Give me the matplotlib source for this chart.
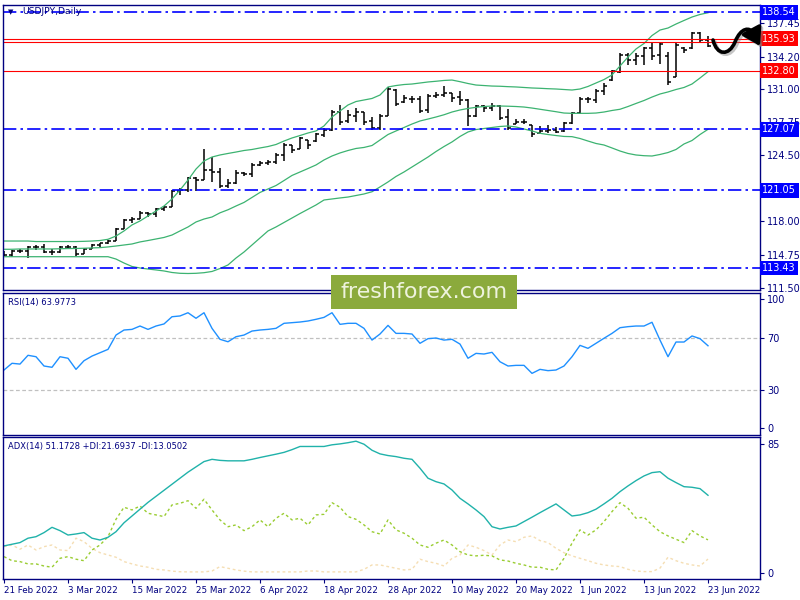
import matplotlib
matplotlib.use('Agg')

import matplotlib.pyplot as plt
import numpy as np
from matplotlib.path import Path
from matplotlib.patches import FancyArrowPatch, Rectangle

# USDJPY daily bars, 21 Feb 2022 - 23 Jun 2022
opens = [114.91, 114.71, 115.10, 115.10, 115.50, 115.50, 115.00, 115.00, 115.50, 115.50,
         114.81, 115.30, 115.69, 115.89, 116.08, 117.26, 118.15, 118.25, 118.83, 118.73,
         119.23, 119.42, 120.99, 121.09, 122.27, 122.07, 123.06, 122.86, 121.48, 121.78,
         122.76, 122.66, 123.55, 123.74, 123.84, 124.53, 125.51, 125.12, 126.00, 125.90,
         126.49, 126.98, 128.75, 127.87, 128.36, 128.75, 127.87, 127.18, 128.36, 130.91,
         129.73, 130.03, 130.03, 128.95, 130.32, 130.42, 130.62, 130.22, 129.93, 128.36,
         129.34, 129.14, 129.34, 128.26, 127.57, 127.77, 127.47, 126.69, 126.89, 126.98,
         126.89, 127.67, 128.65, 130.03, 129.93, 130.81, 131.89, 132.68, 134.35, 133.86,
         134.25, 135.04, 134.35, 134.25, 132.19, 135.04, 135.04, 136.51, 135.82]
highs = [115.10, 115.20, 115.27, 115.59, 115.69, 115.76, 115.27, 115.62, 115.69, 115.59,
         115.37, 115.76, 115.92, 116.18, 117.33, 118.22, 118.41, 119.06, 118.96, 119.35,
         119.55, 121.09, 121.26, 122.40, 122.40, 125.09, 124.36, 123.22, 122.14, 123.06,
         122.89, 123.71, 123.97, 124.04, 124.70, 125.74, 125.51, 126.33, 126.00, 126.72,
         127.15, 128.95, 129.44, 128.95, 129.12, 128.78, 128.29, 128.56, 131.24, 130.98,
         130.42, 130.32, 130.32, 130.52, 130.75, 131.31, 130.65, 130.84, 130.00, 129.44,
         129.44, 129.66, 129.44, 129.02, 128.03, 128.03, 127.47, 127.38, 127.47, 127.31,
         127.80, 128.78, 130.20, 130.20, 130.98, 131.63, 132.88, 134.52, 134.52, 134.52,
         135.16, 135.50, 135.56, 134.67, 135.50, 135.10, 136.64, 136.64, 136.21]
lows = [114.64, 114.54, 114.94, 114.38, 115.20, 114.88, 114.71, 114.88, 115.27, 114.61,
        114.81, 115.27, 115.52, 115.79, 116.08, 117.23, 117.82, 118.22, 118.41, 118.41,
        119.06, 119.40, 120.60, 120.93, 121.02, 122.07, 121.91, 121.26, 121.26, 121.68,
        122.47, 122.40, 123.45, 123.55, 123.65, 123.97, 124.70, 125.09, 125.09, 125.83,
        126.27, 126.92, 127.47, 127.70, 127.80, 127.47, 126.98, 126.98, 128.36, 129.34,
        129.61, 129.67, 128.62, 128.68, 130.10, 130.20, 129.76, 129.44, 127.38, 128.23,
        128.78, 128.88, 127.97, 126.98, 127.57, 127.57, 126.33, 126.66, 126.72, 126.66,
        126.82, 127.57, 128.56, 129.66, 129.66, 130.42, 131.83, 132.55, 133.37, 133.37,
        133.37, 133.86, 133.46, 131.40, 132.16, 134.52, 134.91, 135.65, 135.10]
closes = [114.71, 115.10, 115.10, 115.50, 115.50, 115.00, 115.00, 115.50, 115.50, 114.81,
          115.30, 115.69, 115.89, 116.08, 117.26, 118.15, 118.25, 118.83, 118.73, 119.23,
          119.42, 120.99, 121.09, 122.27, 122.07, 123.06, 122.86, 121.48, 121.78, 122.76,
          122.66, 123.55, 123.74, 123.84, 124.53, 125.51, 125.02, 126.20, 125.51, 126.59,
          126.98, 128.75, 127.77, 128.46, 128.75, 127.77, 127.18, 128.36, 131.01, 129.54,
          130.13, 130.03, 128.85, 130.32, 130.42, 130.62, 130.13, 129.93, 128.36, 129.34,
          129.14, 129.34, 128.16, 127.18, 127.77, 127.77, 126.59, 126.89, 126.98, 126.79,
          127.67, 128.65, 130.03, 130.03, 130.81, 131.30, 132.78, 134.35, 133.86, 134.25,
          135.04, 134.25, 135.43, 131.70, 135.33, 134.84, 136.51, 135.82, 135.23]

# Bollinger bands (20, 2)
bb_upper = [116.08, 116.08, 116.08, 116.08, 116.03, 116.03, 116.03, 116.03, 116.03, 116.03,
            116.05, 116.08, 116.13, 116.25, 116.57, 117.07, 117.66, 118.05, 118.54, 119.03,
            119.52, 120.21, 121.09, 122.07, 123.15, 123.94, 124.33, 124.53, 124.68, 124.82,
            124.97, 125.07, 125.22, 125.36, 125.56, 125.90, 126.20, 126.44, 126.69, 126.89,
            127.38, 128.26, 128.85, 129.44, 129.78, 129.93, 130.08, 130.42, 131.21, 131.35,
            131.45, 131.50, 131.60, 131.70, 131.77, 131.85, 131.89, 131.73, 131.55, 131.40,
            131.35, 131.30, 131.28, 131.24, 131.21, 131.16, 131.11, 131.08, 131.04, 131.01,
            130.96, 130.91, 131.01, 131.26, 131.60, 131.94, 132.39, 133.27, 134.15, 134.94,
            135.48, 136.26, 136.80, 137.00, 137.39, 137.74, 138.08, 138.33, 138.50]
bb_middle = [115.27, 115.27, 115.30, 115.30, 115.30, 115.30, 115.30, 115.32, 115.34, 115.35,
             115.37, 115.40, 115.43, 115.50, 115.59, 115.69, 115.79, 115.99, 116.13, 116.28,
             116.43, 116.67, 117.07, 117.46, 117.95, 118.24, 118.44, 118.85, 119.15, 119.52,
             119.87, 120.36, 120.85, 121.19, 121.53, 122.02, 122.52, 122.86, 123.20, 123.55,
             124.04, 124.43, 124.73, 124.97, 125.17, 125.27, 125.46, 126.00, 126.54, 126.89,
             127.23, 127.57, 127.87, 128.06, 128.26, 128.48, 128.75, 128.95, 129.10, 129.21,
             129.29, 129.34, 129.34, 129.32, 129.29, 129.24, 129.14, 129.02, 128.90, 128.78,
             128.65, 128.62, 128.62, 128.62, 128.65, 128.75, 128.90, 129.02, 129.29, 129.59,
             129.88, 130.22, 130.52, 130.72, 130.96, 131.16, 131.50, 132.09, 132.71]
bb_lower = [114.54, 114.54, 114.54, 114.54, 114.54, 114.54, 114.54, 114.54, 114.54, 114.54,
            114.54, 114.54, 114.54, 114.54, 114.31, 113.92, 113.58, 113.43, 113.33, 113.24,
            113.14, 112.99, 112.91, 112.89, 112.91, 112.97, 113.09, 113.38, 113.73, 114.41,
            115.00, 115.69, 116.38, 117.07, 117.46, 117.90, 118.34, 118.78, 119.20, 119.62,
            120.11, 120.21, 120.31, 120.40, 120.55, 120.70, 120.92, 121.39, 121.88, 122.42,
            122.86, 123.35, 123.84, 124.33, 124.87, 125.36, 125.81, 126.35, 126.79, 127.03,
            127.13, 127.23, 127.33, 127.38, 127.28, 127.08, 126.89, 126.66, 126.54, 126.44,
            126.35, 126.33, 126.15, 125.90, 125.66, 125.51, 125.22, 124.92, 124.68, 124.53,
            124.46, 124.43, 124.58, 124.77, 125.07, 125.61, 125.95, 126.54, 127.05]

rsi = [45.2, 50.4, 49.8, 56.6, 55.5, 48.3, 47.3, 55.5, 54.3, 45.7,
       52.4, 56.0, 58.6, 61.2, 72.3, 76.2, 76.7, 79.3, 76.7, 79.3,
       80.9, 86.5, 87.1, 89.6, 85.3, 89.6, 77.5, 69.0, 67.1, 71.0,
       72.3, 75.4, 76.2, 76.7, 77.5, 81.4, 81.9, 82.4, 83.2, 84.5,
       86.0, 89.6, 80.6, 81.4, 81.4, 77.5, 68.4, 73.1, 79.8, 73.6,
       73.6, 73.1, 65.9, 69.5, 70.0, 68.4, 69.0, 65.3, 54.3, 58.1,
       57.6, 58.9, 51.6, 48.3, 48.8, 48.8, 42.6, 45.7, 44.7, 45.2,
       48.3, 55.5, 64.3, 62.0, 65.9, 69.8, 73.6, 78.0, 78.8, 79.3,
       79.3, 82.2, 68.4, 55.5, 66.9, 66.9, 71.6, 69.5, 64.0]

adx = [17.7, 18.8, 19.9, 22.8, 23.8, 26.5, 30.0, 27.8, 24.9, 25.6,
       26.5, 22.8, 21.6, 23.4, 27.1, 33.0, 37.5, 42.0, 46.5, 50.5,
       54.5, 58.5, 62.5, 66.5, 70.0, 73.5, 75.0, 74.3, 74.0, 74.0,
       74.0, 75.0, 76.2, 77.3, 78.4, 79.6, 81.4, 83.5, 83.5, 83.5,
       83.5, 84.6, 85.2, 86.0, 87.0, 85.0, 81.0, 78.6, 77.5, 76.8,
       75.7, 75.0, 69.1, 62.5, 60.2, 58.7, 54.7, 49.2, 45.5, 41.5,
       37.1, 30.4, 28.9, 30.0, 30.9, 33.8, 36.7, 39.7, 42.6, 45.5,
       41.5, 37.5, 38.2, 39.7, 42.0, 45.5, 49.2, 53.6, 57.4, 60.9,
       64.0, 66.2, 66.8, 62.5, 59.6, 56.9, 56.5, 55.6, 51.2]
plus_di = [10.6, 7.9, 7.3, 5.8, 5.8, 4.4, 3.6, 9.5, 10.6, 8.9,
           7.9, 15.0, 18.3, 23.8, 35.3, 43.3, 41.5, 44.1, 39.3, 38.2,
           37.1, 44.8, 45.9, 47.6, 42.6, 48.6, 41.5, 34.9, 30.4, 31.6,
           27.8, 30.4, 34.9, 30.4, 36.0, 39.3, 34.9, 36.0, 31.6, 38.2,
           38.6, 46.3, 43.3, 37.1, 35.3, 31.6, 27.1, 25.6, 34.9, 28.3,
           26.1, 22.8, 18.3, 16.8, 19.5, 21.6, 18.3, 13.9, 11.7, 11.1,
           11.5, 11.1, 8.4, 7.7, 6.2, 5.1, 3.6, 3.6, 2.2, 1.8,
           9.5, 19.5, 28.3, 24.9, 28.3, 33.8, 40.4, 46.3, 42.6, 36.0,
           36.7, 31.6, 27.1, 24.3, 22.1, 19.9, 27.8, 24.3, 21.7]
minus_di = [17.2, 18.3, 15.5, 18.3, 15.0, 17.2, 18.3, 15.0, 14.6, 22.8,
            20.5, 16.1, 13.2, 11.7, 10.2, 7.3, 5.8, 4.4, 3.6, 2.2,
            1.8, 1.0, 0.6, 0.5, 0.5, 0.5, 1.1, 4.0, 2.9, 1.8,
            1.0, 0.5, 0.5, 0.5, 0.5, 0.5, 0.5, 0.5, 1.1, 1.1,
            0.5, 0.5, 0.5, 0.5, 0.5, 2.2, 5.1, 5.1, 4.0, 2.9,
            1.8, 2.2, 8.9, 7.3, 6.2, 4.4, 9.5, 11.7, 18.3, 16.8,
            14.6, 11.7, 18.3, 21.6, 20.5, 23.4, 24.3, 21.2, 19.9, 16.1,
            13.2, 11.1, 9.5, 7.9, 6.2, 5.1, 4.4, 4.0, 2.2, 1.1,
            0.7, 0.7, 3.0, 10.2, 7.9, 6.2, 5.1, 4.4, 9.0]

blue_levels = [138.54, 127.07, 121.05, 113.43]
red_levels = [135.93, 132.80]
red_extra_line = 135.66

price_ticks = [111.50, 114.75, 118.00, 124.50, 127.75, 131.00, 134.20, 137.45]
price_labels = ['111.50', '114.75', '118.00', '124.50', '127.75', '131.00', '134.20', '137.45']

date_pos = [0, 8, 16, 24, 32, 40, 48, 56, 64, 72, 80, 88]
date_labels = ['21 Feb 2022', '3 Mar 2022', '15 Mar 2022', '25 Mar 2022', '6 Apr 2022',
               '18 Apr 2022', '28 Apr 2022', '10 May 2022', '20 May 2022', '1 Jun 2022',
               '13 Jun 2022', '23 Jun 2022']

NAVY = '#000080'


def panel(fig, top, bottom):
    ax = fig.add_axes([3 / 800, 1 - bottom / 600, 757 / 800, (bottom - top) / 600])
    ax.set_xlim(-0.125, 94.5)
    for s in ax.spines.values():
        s.set_color(NAVY)
        s.set_linewidth(1)
    ax.yaxis.tick_right()
    ax.tick_params(axis='y', direction='out', length=3, pad=2, labelsize=7, colors=NAVY)
    ax.set_xticks([])
    return ax


def draw_chart():
    fig = plt.figure(figsize=(8, 6), dpi=100, facecolor='white')
    x = np.arange(len(closes))

    # price panel
    ax = panel(fig, 5, 290)
    ax.set_ylim(111.27, 139.26)
    ax.vlines(x, lows, highs, color='black', lw=1.1)
    ax.hlines(opens, x - 0.4, x, color='black', lw=1.1)
    ax.hlines(closes, x, x + 0.4, color='black', lw=1.1)
    for band in (bb_upper, bb_middle, bb_lower):
        ax.plot(x, band, color='#3CB371', lw=0.9)

    for v in blue_levels:
        ax.axhline(v, color='#0000FF', lw=1.2, ls=(0, (8, 2.5, 1.5, 2.5)))
    for v in red_levels + [red_extra_line]:
        ax.axhline(v, color='#FF0000', lw=0.8)

    ax.set_yticks(price_ticks)
    ax.set_yticklabels(price_labels)

    for v in blue_levels:
        ax.text(1.003, v, f'{v:.2f}', transform=ax.get_yaxis_transform(), ha='left',
                va='center', fontsize=7, color='white', clip_on=False, zorder=5,
                bbox=dict(boxstyle='square,pad=0.25', fc='#0000FF', ec='none'))
    for v in red_levels:
        ax.text(1.003, v, f'{v:.2f}', transform=ax.get_yaxis_transform(), ha='left',
                va='center', fontsize=7, color='white', clip_on=False, zorder=5,
                bbox=dict(boxstyle='square,pad=0.25', fc='#FF0000', ec='none'))

    fig.text(8 / 800, 1 - 12 / 600, '▼', fontsize=5, color=NAVY, va='center')
    fig.text(22 / 800, 1 - 12 / 600, 'USDJPY,Daily', fontsize=6.7, color=NAVY, va='center')

    # RSI panel
    ax_rsi = panel(fig, 293, 434.5)
    ax_rsi.set_ylim(-4.8, 104.9)
    ax_rsi.axhline(70, color='#C0C0C0', lw=0.9, ls=(0, (3, 2)))
    ax_rsi.axhline(30, color='#C0C0C0', lw=0.9, ls=(0, (3, 2)))
    ax_rsi.plot(x, rsi, color='#1E90FF', lw=1)
    ax_rsi.set_yticks([0, 30, 70, 100])
    fig.text(8 / 800, 1 - 302 / 600, 'RSI(14) 63.9773', fontsize=6, color=NAVY, va='center')

    # ADX panel
    ax_adx = panel(fig, 436.5, 579)
    ax_adx.set_ylim(-4.2, 90.1)
    ax_adx.plot(x, minus_di, color='#F5DEB3', lw=1, ls=(0, (2, 2)))
    ax_adx.plot(x, plus_di, color='#9ACD32', lw=1, ls=(0, (2, 2)))
    ax_adx.plot(x, adx, color='#20B2AA', lw=1)
    ax_adx.set_yticks([0, 85])
    ax_adx.set_xticks(date_pos)
    ax_adx.set_xticklabels(date_labels)
    ax_adx.tick_params(axis='x', direction='out', length=3, pad=2, labelsize=6.3, colors=NAVY)
    for lbl in ax_adx.get_xticklabels():
        lbl.set_horizontalalignment('left')
    fig.text(8 / 800, 1 - 446 / 600, 'ADX(14) 51.1728 +DI:21.6937 -DI:13.0502',
             fontsize=6, color=NAVY, va='center')

    # watermark
    fig.add_artist(Rectangle((331 / 800, 1 - 309 / 600), 186 / 800, 34 / 600,
                             transform=fig.transFigure, fc='#8BAA3C', ec='none', zorder=10))
    fig.text(424 / 800, 1 - 292 / 600, 'freshforex.com', ha='center', va='center',
             fontsize=16, color='#EEF3DD', zorder=11)

    # hand drawn arrow at the right edge
    pts = [(713, 40), (717, 56), (729, 56), (735, 42), (741, 27), (750, 27), (753, 33),
           (760, 46)]
    codes = [Path.MOVETO] + [Path.CURVE4] * 6 + [Path.LINETO]
    for dx, dy, col, a, z in ((2, 2, '#808080', 0.45, 11), (0, 0, 'black', 1.0, 12)):
        verts = [((px + dx) / 800, 1 - (py + dy) / 600) for px, py in pts]
        arrow = FancyArrowPatch(path=Path(verts, codes),
                                arrowstyle='-|>,head_length=0.8,head_width=0.5',
                                mutation_scale=13, lw=2.6, color=col, alpha=a,
                                transform=fig.transFigure, zorder=z)
        fig.add_artist(arrow)

    fig.savefig('out.png', dpi=100, facecolor='white')


if __name__ == '__main__':
    draw_chart()
